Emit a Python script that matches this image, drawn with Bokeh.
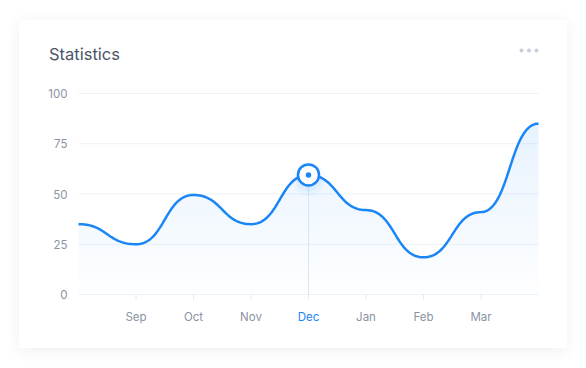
import numpy as np
from bokeh.plotting import figure
from bokeh.models import Range1d
from bokeh.core.properties import value
from bokeh.embed import file_html
from bokeh.resources import INLINE

# ---- data ----
months = ["Aug", "Sep", "Oct", "Nov", "Dec", "Jan", "Feb", "Mar", "Apr"]
values = [35, 25, 49.5, 35, 59.5, 42, 18.5, 41, 85]
tick_labels = ["Sep", "Oct", "Nov", "Dec", "Jan", "Feb", "Mar"]
y_ticks = [0, 25, 50, 75, 100]
highlight = "Dec"
title = "Statistics"

BLUE = "#1a86f6"
GRID = "#edf2f9"
TICK = "#e2e9f3"
LABEL = "#8a93a5"
FONT = "Inter"

xs = np.arange(len(months), dtype=float)
ys = np.array(values, dtype=float)
hi_idx = months.index(highlight)


def bump_curve(xv, yv, n=40):
    px, py = [], []
    for i in range(len(xv) - 1):
        last = i == len(xv) - 2
        t = np.linspace(0, 1, n, endpoint=last)
        x0, x1, y0, y1 = xv[i], xv[i + 1], yv[i], yv[i + 1]
        xm = (x0 + x1) / 2
        bx = (1 - t) ** 3 * x0 + 3 * (1 - t) ** 2 * t * xm + 3 * (1 - t) * t ** 2 * xm + t ** 3 * x1
        by = (1 - t) ** 3 * y0 + 3 * (1 - t) ** 2 * t * y0 + 3 * (1 - t) * t ** 2 * y1 + t ** 3 * y1
        px.append(bx)
        py.append(by)
    return np.concatenate(px), np.concatenate(py)


cx, cy = bump_curve(xs, ys)

# ---- layout: the card is the figure; the plot area sits inside it ----
CARD_L, CARD_T, W, H = 19, 20, 548, 328
PA_L, PA_R, PA_T, PA_B = 78, 538, 93, 294     # plot area (page px)
x_lo, x_hi = 0, len(months) - 1
y_lo, y_hi = y_ticks[0], y_ticks[-1]
kx = (PA_R - PA_L) / (x_hi - x_lo)
ky = (PA_B - PA_T) / (y_hi - y_lo)
xr = Range1d(x_lo - (PA_L - CARD_L) / kx, x_hi + (CARD_L + W - PA_R) / kx)
yr = Range1d(y_lo - (CARD_T + H - PA_B) / ky, y_hi + (PA_T - CARD_T) / ky)


def dx(px):
    return x_lo + (px - PA_L) / kx


def dy(py):
    return y_lo + (PA_B - py) / ky


p = figure(width=W, height=H, output_backend="svg", toolbar_location=None,
           x_range=xr, y_range=yr, min_border=0)
p.styles = {"box-shadow": "0 3px 14px rgba(30,40,60,0.07)",
            "margin-left": f"{CARD_L}px", "margin-top": f"{CARD_T}px"}
p.background_fill_color = "white"
p.border_fill_color = "white"
p.outline_line_color = None
p.xaxis.visible = False
p.yaxis.visible = False
p.xgrid.visible = False
p.ygrid.visible = False

# horizontal grid lines across the plot area
p.segment(x0=[x_lo] * len(y_ticks), y0=y_ticks, x1=[x_hi] * len(y_ticks), y1=y_ticks,
          line_color=GRID, line_width=1)

# gradient area (stacked bands)
edges = np.linspace(y_lo, y_hi, 51)
for lo, hi in zip(edges[:-1], edges[1:]):
    a = 0.008 + 0.11 * ((lo + hi) / 200)
    p.varea(x=cx, y1=np.minimum(cy, lo), y2=np.minimum(cy, hi),
            fill_color=BLUE, fill_alpha=a)

# month ticks below the zero line
tick_pos = [months.index(m) for m in tick_labels]
p.segment(x0=tick_pos, y0=[y_lo] * len(tick_pos), x1=tick_pos,
          y1=[dy(PA_B + 5)] * len(tick_pos), line_color=TICK, line_width=1)

# crosshair at highlighted month
p.segment(x0=[xs[hi_idx]], y0=[y_lo], x1=[xs[hi_idx]], y1=[ys[hi_idx]],
          line_color="#d5e5fb", line_width=1)

# glow below marker
for r, a in [(17, 0.035), (13, 0.05), (9, 0.06)]:
    p.circle(x=[xs[hi_idx]], y=[ys[hi_idx] - 2], radius=r, radius_units="screen",
             fill_color=BLUE, fill_alpha=a, line_color=None)

# line
p.line(cx, cy, line_color=BLUE, line_width=2.5)

# marker
p.scatter(x=[xs[hi_idx]], y=[ys[hi_idx]], size=21, fill_color="white",
          line_color=BLUE, line_width=2.5)
p.scatter(x=[xs[hi_idx]], y=[ys[hi_idx]], size=5.5, fill_color=BLUE, line_color=None)

# x tick labels
xl_colors = [BLUE if m == highlight else LABEL for m in tick_labels]
p.text(x=tick_pos, y=[dy(316)] * len(tick_pos), text=tick_labels, text_color=xl_colors,
       text_align="center", text_baseline="middle", text_font=value(FONT),
       text_font_size="11.5px")

# y tick labels
p.text(x=[dx(67)] * len(y_ticks), y=y_ticks, text=[str(v) for v in y_ticks],
       text_color=LABEL, text_align="right", text_baseline="middle",
       text_font=value(FONT), text_font_size="11.5px")

# title
p.text(x=[dx(48.5)], y=[dy(53)], text=[title], text_color="#4b5567", text_align="left",
       text_baseline="middle", text_font=value(FONT), text_font_size="16.5px")

# menu dots
p.scatter(x=[dx(521), dx(528.5), dx(536)], y=[dy(50)] * 3, size=4,
          fill_color="#c6d0dd", line_color=None)

open("out.html", "w").write(file_html(p, INLINE))
